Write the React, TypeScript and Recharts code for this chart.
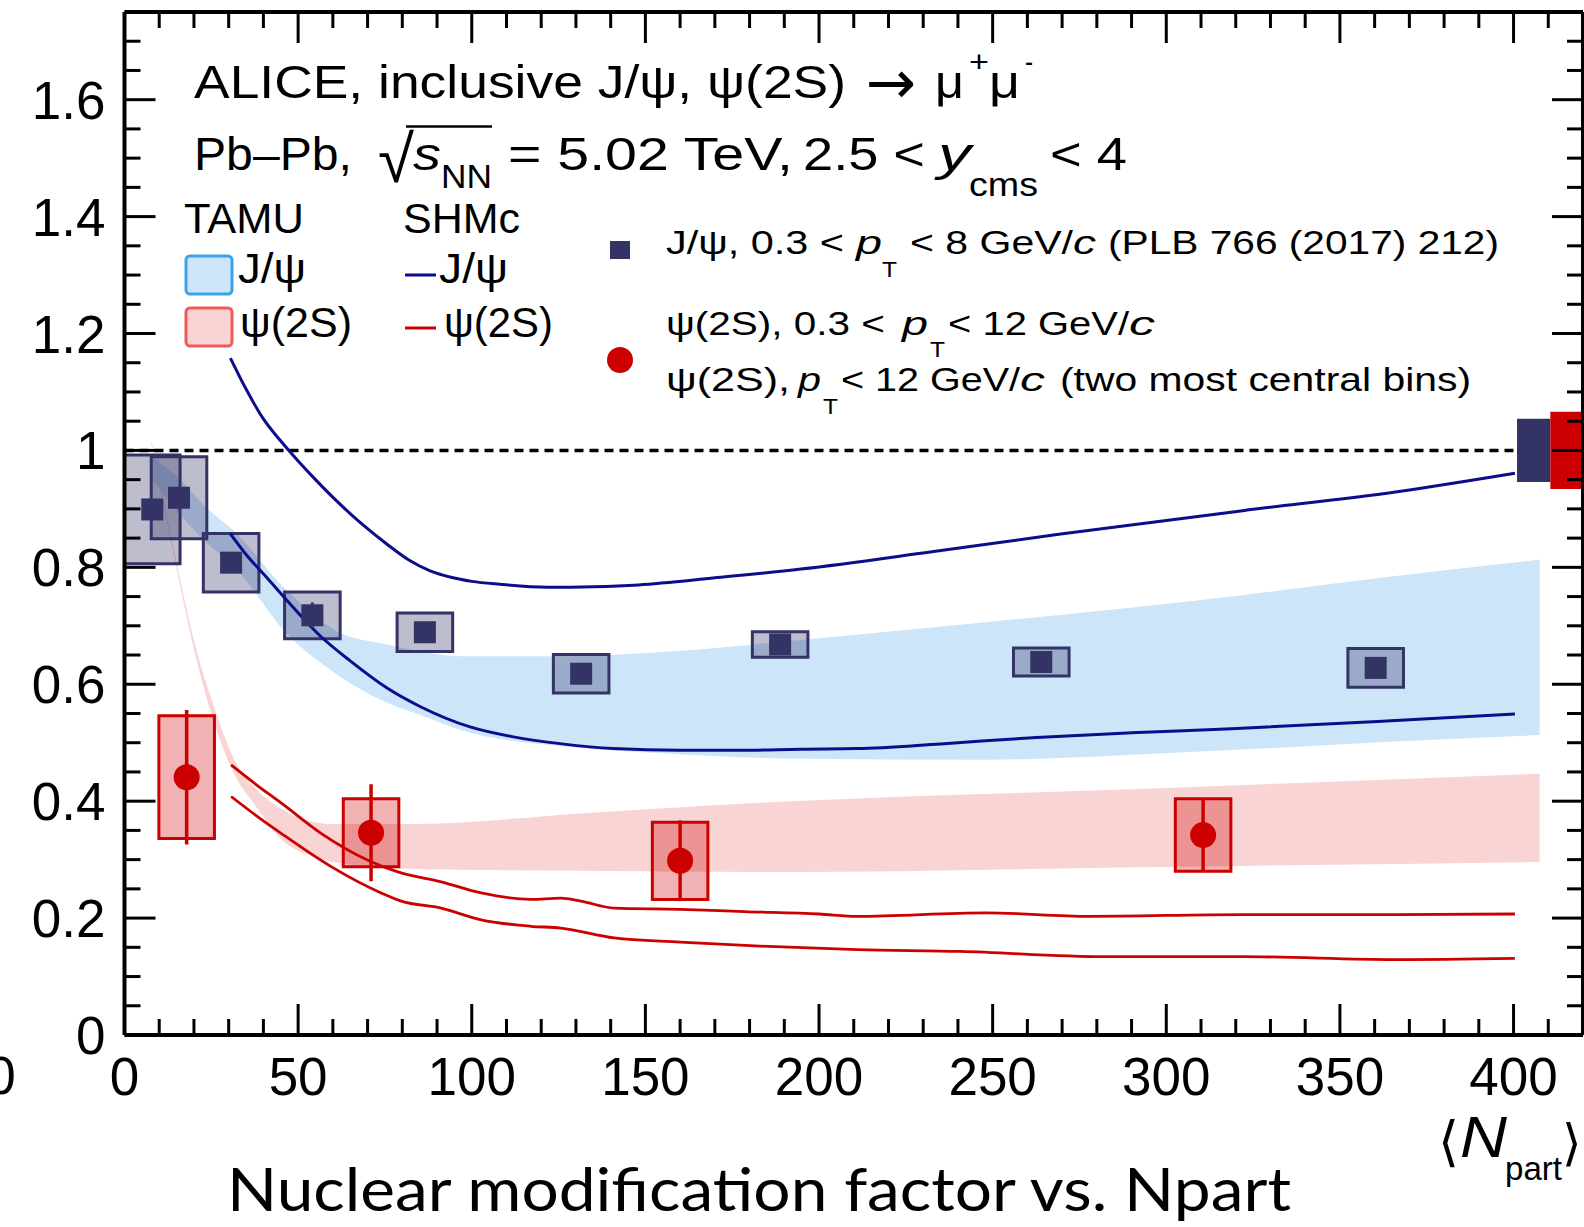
import React from 'react';
import {
  ComposedChart,
  Area,
  Line,
  Scatter,
  XAxis,
  YAxis,
  ReferenceArea,
  ReferenceLine,
  ErrorBar,
} from 'recharts';

// ALICE inclusive J/psi (PLB 766 (2017) 212)
const JPSI_NPART = [8.0, 15.7, 30.7, 54.1, 86.5, 131.5, 188.8, 264.0, 360.3];
const JPSI_RAA = [0.899, 0.919, 0.808, 0.718, 0.689, 0.618, 0.668, 0.638, 0.628];
const JPSI_STAT = [0.012, 0.012, 0.012, 0.022, 0.012, 0.012, 0.01, 0.01, 0.01];
const JPSI_SYST = [0.093, 0.07, 0.05, 0.04, 0.033, 0.033, 0.022, 0.024, 0.033];

// ALICE psi(2S)
const PSI_NPART = [17.9, 71.0, 160.0, 310.6];
const PSI_RAA = [0.441, 0.346, 0.298, 0.342];
const PSI_STAT = [0.115, 0.083, 0.069, 0.06];
const PSI_SYST = [0.105, 0.058, 0.066, 0.062];

const BOX_HALF = 8;

// global (correlated) uncertainty boxes at unity, J/psi then psi(2S)
const GLOBAL_X1 = [401, 410.6];
const GLOBAL_X2 = [410.6, 420];
const GLOBAL_LO = [0.946, 0.934];
const GLOBAL_HI = [1.054, 1.066];
const GLOBAL_COLORS = ['#333366', '#cc0000'];

// TAMU transport model bands
const TAMU_JPSI_N = [8, 16, 24, 31, 47, 61.4, 75.8, 85.4, 96.6, 126, 155, 190, 248, 307, 366, 407.5];
const TAMU_JPSI_LO = [0.95, 0.89, 0.84, 0.805, 0.685, 0.616, 0.568, 0.547, 0.522, 0.494, 0.482, 0.473, 0.471, 0.484, 0.502, 0.513];
const TAMU_JPSI_HI = [0.99, 0.95, 0.9, 0.865, 0.759, 0.69, 0.668, 0.656, 0.648, 0.648, 0.655, 0.673, 0.706, 0.742, 0.785, 0.813];

const TAMU_PSI_N = [7.7, 14.4, 20, 25, 31.7, 38, 45.1, 54.7, 60, 83.4, 131.4, 189, 292, 407.5];
const TAMU_PSI_LO = [1.012, 0.815, 0.66, 0.55, 0.445, 0.39, 0.335, 0.305, 0.296, 0.284, 0.281, 0.279, 0.287, 0.296];
const TAMU_PSI_HI = [1.018, 0.825, 0.675, 0.575, 0.47, 0.42, 0.387, 0.364, 0.361, 0.361, 0.379, 0.399, 0.421, 0.447];

// SHMc statistical hadronization model (upper / lower curves)
const SHMC_JPSI_HI_N = [30.5, 35, 40, 45, 50, 55, 61, 68, 75.5, 82, 88, 94, 100, 108, 121.7, 135, 148, 170, 194.8, 233, 269.6, 322, 366, 400.4];
const SHMC_JPSI_HI = [1.158, 1.105, 1.054, 1.016, 0.982, 0.95, 0.914, 0.876, 0.84, 0.812, 0.794, 0.783, 0.776, 0.771, 0.766, 0.767, 0.77, 0.782, 0.797, 0.827, 0.857, 0.897, 0.929, 0.961];
const SHMC_JPSI_LO_N = [30.4, 35, 40.9, 47, 56.3, 65, 75.5, 85.1, 99.5, 112, 126, 140.7, 160, 177.4, 194.8, 211, 235, 262.7, 290, 318.8, 366, 400.4];
const SHMC_JPSI_LO = [0.858, 0.822, 0.783, 0.742, 0.683, 0.64, 0.594, 0.562, 0.527, 0.51, 0.498, 0.49, 0.487, 0.487, 0.489, 0.49, 0.498, 0.509, 0.517, 0.524, 0.538, 0.549];

const SHMC_PSI_HI_N = [30.7, 38, 45.1, 56.6, 70.1, 78.7, 91.2, 102.7, 117, 125.6, 131.4, 141, 160, 178.5, 200, 211, 248, 277.6, 322, 366, 400.4];
const SHMC_PSI_HI = [0.462, 0.428, 0.397, 0.345, 0.299, 0.279, 0.262, 0.243, 0.232, 0.234, 0.229, 0.217, 0.215, 0.211, 0.207, 0.203, 0.209, 0.203, 0.206, 0.206, 0.207];
const SHMC_PSI_LO_N = [30.7, 38, 45.1, 59.5, 73.9, 79.7, 91.2, 102.7, 117, 125.6, 141, 160, 183, 211, 240.7, 282, 322, 366, 400.4];
const SHMC_PSI_LO = [0.408, 0.375, 0.345, 0.288, 0.243, 0.229, 0.217, 0.197, 0.186, 0.183, 0.166, 0.159, 0.152, 0.146, 0.143, 0.134, 0.134, 0.129, 0.131];

const X_TICKS = Array.from({ length: 42 }, (_, i) => i * 10);
const Y_TICKS = Array.from({ length: 36 }, (_, i) => Math.round(i * 5) / 100);

const FONT = '"Liberation Sans", Arial, Helvetica, sans-serif';
const NAVY = '#333366';
const RED = '#cc0000';
const LINE_NAVY = '#0c0c8c';

const MAJOR = 31;
const MINOR = 16;

const jpsiPoints = JPSI_NPART.map((n, i) => ({ n, r: JPSI_RAA[i], err: JPSI_STAT[i] }));
const psiPoints = PSI_NPART.map((n, i) => ({ n, r: PSI_RAA[i], err: PSI_STAT[i] }));
const tamuJpsi = TAMU_JPSI_N.map((n, i) => ({ n, band: [TAMU_JPSI_LO[i], TAMU_JPSI_HI[i]] }));
const tamuPsi = TAMU_PSI_N.map((n, i) => ({ n, band: [TAMU_PSI_LO[i], TAMU_PSI_HI[i]] }));
const toLine = (ns: number[], rs: number[]) => ns.map((n, i) => ({ n, r: rs[i] }));

function yLabel(v: number) {
  if (v === 0) return '0';
  if (v === 1) return '1';
  return v.toFixed(1);
}

function BottomTick(props: any) {
  const { x, y, payload } = props;
  const v = payload.value;
  const major = v % 50 === 0;
  return (
    <g>
      <line x1={x} x2={x} y1={y} y2={y - (major ? MAJOR : MINOR)} stroke="#000" strokeWidth={3} />
      {major && (
        <text x={x} y={y + 60} textAnchor="middle" fontSize={53} fontFamily={FONT} fill="#000">
          {v}
        </text>
      )}
    </g>
  );
}

function TopTick(props: any) {
  const { x, y, payload } = props;
  const major = payload.value % 50 === 0;
  return <line x1={x} x2={x} y1={y} y2={y + (major ? MAJOR : MINOR)} stroke="#000" strokeWidth={3} />;
}

function LeftTick(props: any) {
  const { x, y, payload } = props;
  const v = payload.value;
  const major = Math.round(v * 100) % 20 === 0;
  return (
    <g>
      <line x1={x} x2={x + (major ? MAJOR : MINOR)} y1={y} y2={y} stroke="#000" strokeWidth={3} />
      {major && v <= 1.6 && (
        <text x={x - 19} y={y + 19} textAnchor="end" fontSize={53} fontFamily={FONT} fill="#000">
          {yLabel(v)}
        </text>
      )}
    </g>
  );
}

function RightTick(props: any) {
  const { x, y, payload } = props;
  const major = Math.round(payload.value * 100) % 20 === 0;
  return <line x1={x} x2={x - (major ? MAJOR : MINOR)} y1={y} y2={y} stroke="#000" strokeWidth={3} />;
}

// a stretched text piece placed at measured positions
function T({ x, y, w, size, italic, children }: any) {
  return (
    <text
      x={x}
      y={y}
      fontSize={size}
      fontFamily={FONT}
      fontStyle={italic ? 'italic' : 'normal'}
      textLength={w}
      lengthAdjust="spacingAndGlyphs"
      fill="#000"
    >
      {children}
    </text>
  );
}

function Annotations() {
  return (
    <svg
      width={1584}
      height={1227}
      style={{ position: 'absolute', left: 0, top: 0, pointerEvents: 'none' }}
    >
      {/* header */}
      <T x={194} y={98} w={652} size={47}>ALICE, inclusive J/ψ, ψ(2S)</T>
      <text x={866} y={103} fontSize={60} fontFamily='"DejaVu Sans", sans-serif' fill="#000">→</text>
      <T x={935} y={98} w={29} size={47}>μ</T>
      <T x={969} y={72} w={20} size={30}>+</T>
      <T x={989} y={98} w={31} size={47}>μ</T>
      <T x={1025} y={72} w={8} size={30}>-</T>

      <T x={194} y={170} w={158} size={47}>Pb–Pb,</T>
      <T x={378} y={182} w={36} size={66}>√</T>
      <line x1={406} x2={492} y1={126.5} y2={126.5} stroke="#000" strokeWidth={2.5} />
      <T x={413} y={170} w={28} size={47} italic>s</T>
      <T x={441} y={188} w={51} size={34}>NN</T>
      <T x={508} y={170} w={285} size={47}>= 5.02 TeV,</T>
      <T x={803} y={170} w={122} size={47}>2.5 &lt;</T>
      <T x={938} y={170} w={33} size={47} italic>y</T>
      <T x={969} y={196} w={69} size={34}>cms</T>
      <T x={1050} y={170} w={77} size={47}>&lt; 4</T>

      {/* model legend */}
      <T x={184} y={233} w={120} size={42}>TAMU</T>
      <T x={403} y={233} w={117} size={42}>SHMc</T>
      <rect x={186} y={256} width={46} height={38} rx={4} fill="#cce5f9" stroke="#3aa3ec" strokeWidth={3} />
      <rect x={186} y={308} width={46} height={38} rx={4} fill="#f9d4d4" stroke="#f05a5a" strokeWidth={3} />
      <T x={238} y={283} w={68} size={42}>J/ψ</T>
      <T x={240} y={337} w={112} size={42}>ψ(2S)</T>
      <line x1={405} x2={436} y1={275} y2={275} stroke={LINE_NAVY} strokeWidth={3} />
      <line x1={405} x2={436} y1={328} y2={328} stroke={RED} strokeWidth={3} />
      <T x={439} y={283} w={69} size={42}>J/ψ</T>
      <T x={444} y={337} w={109} size={42}>ψ(2S)</T>

      {/* data legend */}
      <rect x={610} y={241} width={20} height={18} fill={NAVY} />
      <T x={666} y={254} w={178} size={34}>J/ψ, 0.3 &lt;</T>
      <T x={856} y={254} w={26} size={34} italic>p</T>
      <T x={882} y={277} w={15} size={22}>T</T>
      <T x={910} y={254} w={163} size={34}>&lt; 8 GeV/</T>
      <T x={1073} y={254} w={23} size={34} italic>c</T>
      <T x={1108} y={254} w={391} size={34}>(PLB 766 (2017) 212)</T>

      <circle cx={620} cy={360} r={13} fill={RED} />
      <T x={666} y={335} w={219} size={34}>ψ(2S), 0.3 &lt;</T>
      <T x={902} y={335} w={26} size={34} italic>p</T>
      <T x={930} y={357} w={15} size={22}>T</T>
      <T x={948} y={335} w={181} size={34}>&lt; 12 GeV/</T>
      <T x={1129} y={335} w={26} size={34} italic>c</T>

      <T x={666} y={391} w={124} size={34}>ψ(2S),</T>
      <T x={798} y={391} w={23} size={34} italic>p</T>
      <T x={823} y={414} w={15} size={22}>T</T>
      <T x={841} y={391} w={179} size={34}>&lt; 12 GeV/</T>
      <T x={1020} y={391} w={25} size={34} italic>c</T>
      <T x={1060} y={391} w={411} size={34}>(two most central bins)</T>

      {/* axis title */}
      <text x={1438} y={1160} fontSize={54} fontFamily='"DejaVu Sans", sans-serif' fill="#000">⟨</text>
      <T x={1460} y={1157} w={47} size={58} italic>N</T>
      <T x={1505} y={1180} w={57} size={34}>part</T>
      <text x={1562} y={1160} fontSize={50} fontFamily='"DejaVu Sans", sans-serif' fill="#000">⟩</text>

      {/* leftover label from the neighbouring panel */}
      <text x={1} y={1094} textAnchor="middle" fontSize={53} fontFamily={FONT} fill="#000">0</text>

      {/* caption */}
      <text x={227} y={1211} fontSize={60} fontFamily="Lato, sans-serif" textLength={1064} lengthAdjust="spacingAndGlyphs" fill="#000">
        Nuclear modification factor vs. Npart
      </text>
    </svg>
  );
}

export default function App() {
  return (
    <div style={{ position: 'absolute', left: 0, top: 0, width: 1584, height: 1227, background: '#fff' }}>
      <ComposedChart width={1584} height={1227} margin={{ top: 0, right: 0, bottom: 0, left: 0 }}>
        <XAxis
          dataKey="n"
          type="number"
          domain={[0, 420]}
          allowDataOverflow
          ticks={X_TICKS}
          interval={0}
          height={192}
          tickSize={0}
          tickMargin={0}
          tickLine={false}
          tick={BottomTick}
          axisLine={{ stroke: '#000', strokeWidth: 4 }}
        />
        <XAxis
          xAxisId="top"
          orientation="top"
          dataKey="n"
          type="number"
          domain={[0, 420]}
          allowDataOverflow
          ticks={X_TICKS}
          interval={0}
          height={12}
          tickSize={0}
          tickMargin={0}
          tickLine={false}
          tick={TopTick}
          axisLine={{ stroke: '#000', strokeWidth: 4 }}
        />
        <YAxis
          type="number"
          domain={[0, 1.75]}
          allowDataOverflow
          ticks={Y_TICKS}
          interval={0}
          width={124.5}
          tickSize={0}
          tickMargin={0}
          tickLine={false}
          tick={LeftTick}
          axisLine={{ stroke: '#000', strokeWidth: 4 }}
        />
        <YAxis
          yAxisId="right"
          orientation="right"
          type="number"
          domain={[0, 1.75]}
          allowDataOverflow
          ticks={Y_TICKS}
          interval={0}
          width={1}
          tickSize={0}
          tickMargin={0}
          tickLine={false}
          tick={RightTick}
          axisLine={{ stroke: '#000', strokeWidth: 4 }}
        />

        <Area
          data={tamuJpsi}
          dataKey="band"
          type="monotone"
          fill="#cce5f9"
          fillOpacity={1}
          stroke="none"
          isAnimationActive={false}
        />
        <Area
          data={tamuPsi}
          dataKey="band"
          type="monotone"
          fill="#f9d4d4"
          fillOpacity={1}
          stroke="none"
          isAnimationActive={false}
        />

        {JPSI_NPART.map((n, i) => (
          <ReferenceArea
            key={`js${i}`}
            x1={n - BOX_HALF}
            x2={n + BOX_HALF}
            y1={JPSI_RAA[i] - JPSI_SYST[i]}
            y2={JPSI_RAA[i] + JPSI_SYST[i]}
            fill={NAVY}
            fillOpacity={0.32}
            stroke={NAVY}
            strokeWidth={3}
            strokeOpacity={1}
          />
        ))}
        {PSI_NPART.map((n, i) => (
          <ReferenceArea
            key={`ps${i}`}
            x1={n - BOX_HALF}
            x2={n + BOX_HALF}
            y1={PSI_RAA[i] - PSI_SYST[i]}
            y2={PSI_RAA[i] + PSI_SYST[i]}
            fill={RED}
            fillOpacity={0.3}
            stroke={RED}
            strokeWidth={3}
            strokeOpacity={1}
          />
        ))}

        <ReferenceLine
          segment={[{ x: 0, y: 1 }, { x: 401, y: 1 }]}
          stroke="#000"
          strokeWidth={3.5}
          strokeDasharray="9 6"
        />
        {GLOBAL_X1.map((x1, i) => (
          <ReferenceArea
            key={`g${i}`}
            x1={x1}
            x2={GLOBAL_X2[i]}
            y1={GLOBAL_LO[i]}
            y2={GLOBAL_HI[i]}
            fill={GLOBAL_COLORS[i]}
            fillOpacity={1}
            stroke="none"
            ifOverflow="visible"
          />
        ))}

        <Line data={toLine(SHMC_JPSI_HI_N, SHMC_JPSI_HI)} dataKey="r" type="monotone" stroke={LINE_NAVY} strokeWidth={3} dot={false} isAnimationActive={false} />
        <Line data={toLine(SHMC_JPSI_LO_N, SHMC_JPSI_LO)} dataKey="r" type="monotone" stroke={LINE_NAVY} strokeWidth={3} dot={false} isAnimationActive={false} />
        <Line data={toLine(SHMC_PSI_HI_N, SHMC_PSI_HI)} dataKey="r" type="monotone" stroke={RED} strokeWidth={2.8} dot={false} isAnimationActive={false} />
        <Line data={toLine(SHMC_PSI_LO_N, SHMC_PSI_LO)} dataKey="r" type="monotone" stroke={RED} strokeWidth={2.8} dot={false} isAnimationActive={false} />

        <Scatter
          data={jpsiPoints}
          dataKey="r"
          isAnimationActive={false}
          shape={(p: any) => <rect x={p.cx - 11} y={p.cy - 11} width={22} height={22} fill={NAVY} />}
        >
          <ErrorBar dataKey="err" direction="y" width={0} stroke={NAVY} strokeWidth={3} />
        </Scatter>
        <Scatter
          data={psiPoints}
          dataKey="r"
          isAnimationActive={false}
          shape={(p: any) => <circle cx={p.cx} cy={p.cy} r={13} fill={RED} />}
        >
          <ErrorBar dataKey="err" direction="y" width={0} stroke={RED} strokeWidth={3.5} />
        </Scatter>
      </ComposedChart>
      <Annotations />
    </div>
  );
}
